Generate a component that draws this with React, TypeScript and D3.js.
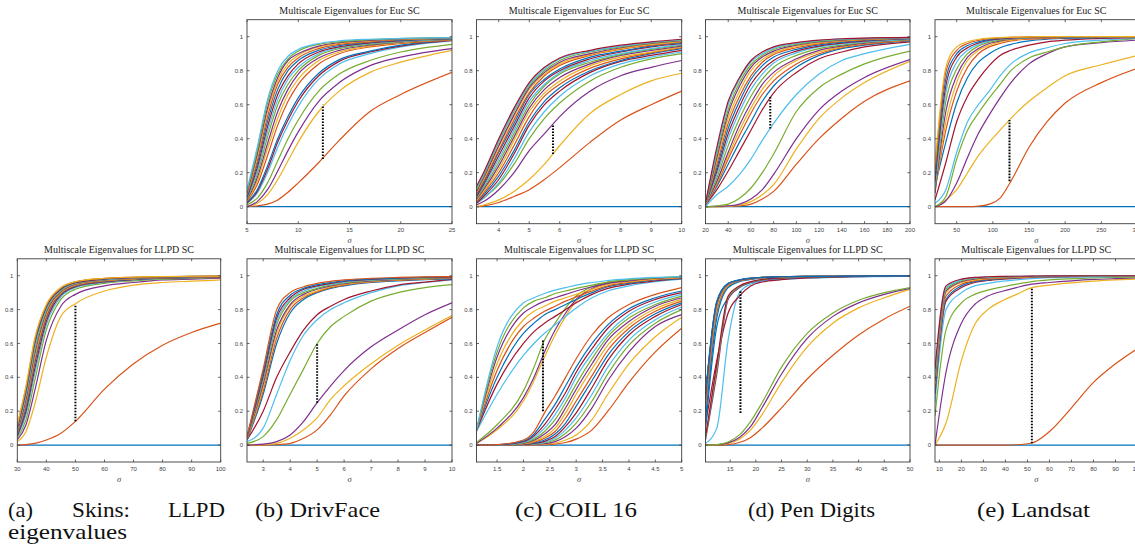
import React from "react";
import * as d3 from "d3";

const matlabColors = ["#0072BD", "#D95319", "#EDB120", "#7E2F8E", "#77AC30", "#4DBEEE", "#A2142F"];
const yTickValues = [0, 0.2, 0.4, 0.6, 0.8, 1];
const titleEuc = "Multiscale Eigenvalues for Euc SC";
const titleLLPD = "Multiscale Eigenvalues for LLPD SC";

// (a) Skins – LLPD
const skinsSigma = [30, 33, 36, 40, 45, 50, 60, 70, 80, 90, 100];
const skinsTicks = [30, 40, 50, 60, 70, 80, 90, 100];
const skinsGap = [50, 0.14, 0.83];
const skinsLLPD = [
  [0, 0, 0, 0, 0, 0, 0, 0, 0, 0, 0],
  [0, 0.003, 0.01, 0.03, 0.07, 0.14, 0.33, 0.48, 0.59, 0.665, 0.72],
  [0.02, 0.08, 0.24, 0.52, 0.76, 0.835, 0.91, 0.945, 0.96, 0.968, 0.975],
  [0.03, 0.12, 0.32, 0.62, 0.82, 0.89, 0.94, 0.96, 0.975, 0.98, 0.985],
  [0.04, 0.15, 0.38, 0.68, 0.86, 0.92, 0.955, 0.97, 0.98, 0.985, 0.99],
  [0.05, 0.18, 0.42, 0.71, 0.875, 0.93, 0.96, 0.975, 0.983, 0.988, 0.991],
  [0.055, 0.2, 0.45, 0.73, 0.885, 0.935, 0.963, 0.977, 0.985, 0.989, 0.992],
  [0.06, 0.22, 0.48, 0.75, 0.89, 0.94, 0.966, 0.979, 0.986, 0.99, 0.993],
  [0.07, 0.24, 0.5, 0.76, 0.895, 0.943, 0.969, 0.98, 0.987, 0.991, 0.994],
  [0.075, 0.26, 0.52, 0.775, 0.9, 0.946, 0.972, 0.982, 0.988, 0.992, 0.995],
  [0.08, 0.27, 0.54, 0.785, 0.905, 0.95, 0.974, 0.984, 0.989, 0.993, 0.995],
  [0.09, 0.29, 0.56, 0.795, 0.91, 0.953, 0.976, 0.986, 0.99, 0.994, 0.996],
  [0.095, 0.3, 0.58, 0.805, 0.915, 0.956, 0.978, 0.987, 0.991, 0.995, 0.996],
  [0.1, 0.32, 0.6, 0.815, 0.92, 0.959, 0.98, 0.988, 0.992, 0.995, 0.997],
  [0.11, 0.33, 0.61, 0.82, 0.925, 0.962, 0.982, 0.99, 0.993, 0.996, 0.997],
  [0.115, 0.34, 0.62, 0.825, 0.928, 0.964, 0.984, 0.991, 0.994, 0.996, 0.998],
  [0.12, 0.35, 0.63, 0.83, 0.93, 0.965, 0.985, 0.992, 0.995, 0.997, 0.998],
];

// (b) DrivFace – Euclidean
const drivEucSigma = [5, 6, 7, 8, 9, 10, 12, 14, 17, 20, 25];
const drivEucTicks = [5, 10, 15, 20, 25];
const drivEucGap = [12.4, 0.28, 0.6];
const drivEuc = [
  [0, 0, 0, 0, 0, 0, 0, 0, 0, 0, 0],
  [0, 0.005, 0.015, 0.04, 0.085, 0.14, 0.26, 0.39, 0.56, 0.66, 0.79],
  [0, 0.02, 0.07, 0.16, 0.27, 0.38, 0.56, 0.68, 0.79, 0.85, 0.92],
  [0, 0.03, 0.1, 0.21, 0.33, 0.44, 0.62, 0.73, 0.83, 0.88, 0.93],
  [0.01, 0.05, 0.14, 0.27, 0.4, 0.51, 0.68, 0.78, 0.86, 0.91, 0.955],
  [0.02, 0.08, 0.2, 0.35, 0.48, 0.59, 0.75, 0.84, 0.9, 0.94, 0.975],
  [0.02, 0.09, 0.22, 0.38, 0.51, 0.62, 0.77, 0.855, 0.91, 0.945, 0.978],
  [0.025, 0.1, 0.24, 0.4, 0.53, 0.64, 0.785, 0.865, 0.915, 0.95, 0.98],
  [0.03, 0.13, 0.3, 0.48, 0.62, 0.72, 0.84, 0.9, 0.94, 0.96, 0.98],
  [0.035, 0.15, 0.34, 0.52, 0.66, 0.75, 0.86, 0.91, 0.945, 0.965, 0.982],
  [0.04, 0.17, 0.37, 0.56, 0.69, 0.78, 0.875, 0.92, 0.95, 0.968, 0.984],
  [0.045, 0.19, 0.41, 0.6, 0.72, 0.8, 0.89, 0.93, 0.955, 0.97, 0.985],
  [0.05, 0.21, 0.44, 0.63, 0.75, 0.82, 0.9, 0.935, 0.96, 0.973, 0.987],
  [0.055, 0.23, 0.47, 0.66, 0.77, 0.84, 0.91, 0.94, 0.963, 0.976, 0.988],
  [0.06, 0.25, 0.5, 0.69, 0.8, 0.86, 0.92, 0.948, 0.967, 0.979, 0.989],
  [0.07, 0.27, 0.53, 0.72, 0.82, 0.875, 0.93, 0.955, 0.97, 0.982, 0.99],
  [0.075, 0.29, 0.56, 0.74, 0.84, 0.89, 0.94, 0.96, 0.975, 0.985, 0.992],
  [0.08, 0.31, 0.58, 0.76, 0.86, 0.9, 0.945, 0.965, 0.978, 0.987, 0.993],
  [0.09, 0.33, 0.61, 0.78, 0.87, 0.915, 0.955, 0.97, 0.982, 0.989, 0.994],
  [0.1, 0.35, 0.63, 0.8, 0.885, 0.925, 0.96, 0.975, 0.985, 0.99, 0.995],
];

// (c) COIL 16 – Euclidean
const coilEucSigma = [3.27, 3.5, 4, 4.5, 5, 5.5, 6, 7, 8, 9, 10];
const coilEucTicks = [4, 5, 6, 7, 8, 9, 10];
const coilEucGap = [5.78, 0.31, 0.48];
const coilEuc = [
  [0, 0, 0, 0, 0, 0, 0, 0, 0, 0, 0],
  [0, 0.005, 0.025, 0.06, 0.1, 0.16, 0.23, 0.38, 0.51, 0.6, 0.68],
  [0, 0.01, 0.04, 0.09, 0.16, 0.25, 0.36, 0.55, 0.66, 0.74, 0.785],
  [0.01, 0.03, 0.1, 0.2, 0.33, 0.43, 0.53, 0.68, 0.77, 0.82, 0.86],
  [0.02, 0.05, 0.13, 0.25, 0.4, 0.52, 0.61, 0.74, 0.82, 0.87, 0.9],
  [0.02, 0.05, 0.14, 0.28, 0.44, 0.56, 0.65, 0.77, 0.84, 0.88, 0.91],
  [0.02, 0.06, 0.16, 0.31, 0.48, 0.6, 0.68, 0.79, 0.855, 0.89, 0.92],
  [0.03, 0.07, 0.18, 0.33, 0.5, 0.62, 0.7, 0.8, 0.86, 0.9, 0.93],
  [0.03, 0.08, 0.2, 0.36, 0.53, 0.65, 0.72, 0.815, 0.87, 0.905, 0.935],
  [0.04, 0.09, 0.22, 0.39, 0.56, 0.67, 0.74, 0.83, 0.88, 0.91, 0.94],
  [0.045, 0.1, 0.24, 0.41, 0.58, 0.69, 0.76, 0.84, 0.89, 0.92, 0.945],
  [0.05, 0.11, 0.26, 0.43, 0.6, 0.71, 0.78, 0.85, 0.895, 0.925, 0.95],
  [0.055, 0.12, 0.28, 0.45, 0.62, 0.72, 0.79, 0.86, 0.9, 0.93, 0.955],
  [0.06, 0.13, 0.3, 0.47, 0.64, 0.74, 0.8, 0.87, 0.91, 0.94, 0.96],
  [0.07, 0.14, 0.32, 0.49, 0.66, 0.75, 0.81, 0.88, 0.915, 0.945, 0.965],
  [0.075, 0.15, 0.33, 0.51, 0.67, 0.77, 0.83, 0.89, 0.925, 0.95, 0.97],
  [0.085, 0.16, 0.35, 0.53, 0.69, 0.78, 0.84, 0.895, 0.93, 0.955, 0.973],
  [0.09, 0.17, 0.36, 0.54, 0.7, 0.79, 0.85, 0.9, 0.935, 0.96, 0.977],
  [0.1, 0.18, 0.38, 0.56, 0.71, 0.8, 0.86, 0.91, 0.94, 0.963, 0.98],
  [0.11, 0.19, 0.39, 0.57, 0.72, 0.81, 0.87, 0.915, 0.945, 0.967, 0.982],
  [0.12, 0.2, 0.4, 0.58, 0.73, 0.82, 0.875, 0.92, 0.95, 0.97, 0.985],
];

// (d) Pen Digits – Euclidean
const penEucSigma = [20, 30, 40, 50, 60, 70, 80, 100, 120, 140, 160, 200];
const penEucTicks = [20, 40, 60, 80, 100, 120, 140, 160, 180, 200];
const penEucGap = [77, 0.46, 0.65];
const penEuc = [
  [0, 0, 0, 0, 0, 0, 0, 0, 0, 0, 0, 0],
  [0, 0, 0.002, 0.005, 0.015, 0.045, 0.09, 0.25, 0.4, 0.52, 0.62, 0.74],
  [0, 0, 0.003, 0.01, 0.03, 0.07, 0.13, 0.34, 0.52, 0.64, 0.73, 0.855],
  [0, 0.002, 0.005, 0.015, 0.045, 0.1, 0.19, 0.4, 0.57, 0.68, 0.76, 0.865],
  [0, 0.005, 0.015, 0.05, 0.11, 0.2, 0.31, 0.56, 0.7, 0.78, 0.84, 0.915],
  [0, 0.07, 0.12, 0.19, 0.28, 0.39, 0.49, 0.66, 0.78, 0.86, 0.9, 0.955],
  [0.01, 0.1, 0.21, 0.33, 0.45, 0.57, 0.67, 0.79, 0.87, 0.91, 0.94, 0.97],
  [0.01, 0.12, 0.25, 0.38, 0.5, 0.62, 0.71, 0.82, 0.89, 0.93, 0.95, 0.975],
  [0.01, 0.13, 0.28, 0.42, 0.55, 0.66, 0.74, 0.84, 0.9, 0.935, 0.955, 0.978],
  [0.015, 0.14, 0.3, 0.45, 0.58, 0.69, 0.77, 0.86, 0.91, 0.94, 0.96, 0.98],
  [0.015, 0.15, 0.32, 0.48, 0.61, 0.72, 0.79, 0.87, 0.92, 0.945, 0.962, 0.982],
  [0.015, 0.17, 0.36, 0.52, 0.65, 0.75, 0.82, 0.89, 0.93, 0.95, 0.966, 0.984],
  [0.02, 0.19, 0.4, 0.56, 0.69, 0.78, 0.845, 0.905, 0.94, 0.957, 0.97, 0.986],
  [0.02, 0.21, 0.43, 0.59, 0.72, 0.805, 0.86, 0.915, 0.945, 0.962, 0.974, 0.988],
  [0.02, 0.23, 0.46, 0.62, 0.75, 0.83, 0.88, 0.925, 0.952, 0.967, 0.978, 0.99],
  [0.02, 0.25, 0.49, 0.65, 0.77, 0.85, 0.895, 0.935, 0.958, 0.972, 0.981, 0.991],
  [0.02, 0.27, 0.52, 0.68, 0.8, 0.865, 0.905, 0.943, 0.964, 0.976, 0.984, 0.992],
  [0.02, 0.29, 0.55, 0.71, 0.82, 0.88, 0.915, 0.95, 0.969, 0.98, 0.987, 0.993],
  [0.02, 0.31, 0.57, 0.73, 0.835, 0.89, 0.925, 0.955, 0.973, 0.983, 0.989, 0.994],
  [0.02, 0.33, 0.6, 0.75, 0.85, 0.9, 0.933, 0.96, 0.977, 0.986, 0.99, 0.995],
  [0.02, 0.35, 0.62, 0.76, 0.86, 0.91, 0.94, 0.965, 0.98, 0.988, 0.992, 0.996],
];

// (e) Landsat – Euclidean
const landEucSigma = [20, 35, 50, 65, 80, 95, 110, 125, 150, 175, 200, 250, 300];
const landEucTicks = [50, 100, 150, 200, 250, 300];
const landEucGap = [123, 0.15, 0.51];
const landEuc = [
  [0, 0, 0, 0, 0, 0, 0, 0, 0, 0, 0, 0, 0],
  [0, 0, 0, 0, 0.003, 0.015, 0.05, 0.15, 0.35, 0.5, 0.61, 0.73, 0.815],
  [0, 0.04, 0.1, 0.2, 0.3, 0.38, 0.45, 0.52, 0.62, 0.7, 0.77, 0.835, 0.89],
  [0, 0.035, 0.14, 0.29, 0.43, 0.54, 0.64, 0.73, 0.84, 0.9, 0.94, 0.965, 0.98],
  [0, 0.06, 0.28, 0.45, 0.55, 0.64, 0.72, 0.8, 0.875, 0.91, 0.94, 0.97, 0.99],
  [0.02, 0.1, 0.32, 0.5, 0.6, 0.68, 0.77, 0.84, 0.905, 0.935, 0.96, 0.98, 0.99],
  [0.04, 0.26, 0.5, 0.65, 0.75, 0.83, 0.89, 0.92, 0.95, 0.97, 0.98, 0.99, 0.995],
  [0.12, 0.38, 0.61, 0.76, 0.85, 0.9, 0.935, 0.955, 0.975, 0.985, 0.99, 0.995, 0.997],
  [0.1, 0.45, 0.68, 0.82, 0.9, 0.94, 0.96, 0.975, 0.985, 0.99, 0.995, 0.997, 0.998],
  [0.08, 0.5, 0.73, 0.86, 0.92, 0.95, 0.97, 0.98, 0.99, 0.994, 0.996, 0.998, 0.999],
  [0.08, 0.56, 0.77, 0.88, 0.93, 0.96, 0.975, 0.985, 0.992, 0.995, 0.997, 0.999, 0.999],
  [0.1, 0.62, 0.81, 0.9, 0.945, 0.968, 0.98, 0.988, 0.994, 0.996, 0.998, 0.999, 1],
  [0.12, 0.67, 0.85, 0.92, 0.955, 0.974, 0.984, 0.99, 0.995, 0.997, 0.998, 0.999, 1],
  [0.15, 0.71, 0.88, 0.935, 0.963, 0.979, 0.987, 0.992, 0.996, 0.998, 0.999, 1, 1],
  [0.18, 0.75, 0.9, 0.948, 0.97, 0.983, 0.99, 0.994, 0.997, 0.998, 0.999, 1, 1],
  [0.21, 0.79, 0.92, 0.96, 0.978, 0.988, 0.993, 0.996, 0.998, 0.999, 1, 1, 1],
  [0.25, 0.82, 0.94, 0.97, 0.985, 0.992, 0.995, 0.997, 0.999, 1, 1, 1, 1],
];

// (b) DrivFace – LLPD
const drivLLPDSigma = [2.4, 3, 3.5, 4, 4.5, 5, 5.5, 6, 7, 8, 9, 10];
const drivLLPDTicks = [3, 4, 5, 6, 7, 8, 9, 10];
const drivLLPDGap = [5, 0.25, 0.6];
const drivLLPD = [
  [0, 0, 0, 0, 0, 0, 0, 0, 0, 0, 0, 0],
  [0, 0, 0.002, 0.01, 0.04, 0.09, 0.18, 0.29, 0.45, 0.57, 0.665, 0.755],
  [0, 0.002, 0.01, 0.04, 0.09, 0.16, 0.27, 0.35, 0.48, 0.59, 0.68, 0.765],
  [0, 0.005, 0.02, 0.06, 0.14, 0.25, 0.35, 0.44, 0.58, 0.68, 0.77, 0.84],
  [0.01, 0.05, 0.15, 0.3, 0.45, 0.6, 0.7, 0.76, 0.85, 0.9, 0.93, 0.948],
  [0.02, 0.1, 0.3, 0.5, 0.65, 0.74, 0.8, 0.84, 0.9, 0.94, 0.96, 0.975],
  [0.03, 0.2, 0.4, 0.55, 0.68, 0.77, 0.82, 0.86, 0.91, 0.945, 0.962, 0.978],
  [0.03, 0.3, 0.6, 0.78, 0.86, 0.9, 0.925, 0.94, 0.96, 0.97, 0.977, 0.982],
  [0.035, 0.32, 0.63, 0.8, 0.87, 0.905, 0.93, 0.945, 0.963, 0.973, 0.98, 0.985],
  [0.035, 0.34, 0.66, 0.82, 0.88, 0.91, 0.935, 0.95, 0.966, 0.976, 0.982, 0.987],
  [0.04, 0.36, 0.68, 0.83, 0.89, 0.92, 0.94, 0.953, 0.969, 0.978, 0.984, 0.988],
  [0.04, 0.38, 0.71, 0.85, 0.9, 0.925, 0.945, 0.957, 0.972, 0.98, 0.986, 0.99],
  [0.045, 0.4, 0.73, 0.86, 0.91, 0.935, 0.95, 0.962, 0.975, 0.983, 0.988, 0.991],
  [0.045, 0.41, 0.75, 0.87, 0.92, 0.94, 0.955, 0.966, 0.978, 0.985, 0.99, 0.992],
  [0.05, 0.43, 0.77, 0.885, 0.925, 0.947, 0.96, 0.97, 0.981, 0.987, 0.991, 0.994],
  [0.05, 0.45, 0.8, 0.9, 0.935, 0.955, 0.967, 0.975, 0.985, 0.99, 0.993, 0.995],
];

// (c) COIL 16 – LLPD
const coilLLPDSigma = [1.11, 1.5, 2, 2.2, 2.4, 2.6, 2.8, 3, 3.3, 3.6, 4, 4.5, 5];
const coilLLPDTicks = [1.5, 2, 2.5, 3, 3.5, 4, 4.5, 5];
const coilLLPDGap = [2.37, 0.2, 0.62];
const coilLLPD = [
  [0, 0, 0, 0, 0, 0, 0, 0, 0, 0, 0, 0, 0],
  [0, 0, 0, 0, 0.002, 0.006, 0.015, 0.035, 0.09, 0.2, 0.37, 0.55, 0.69],
  [0, 0, 0, 0.002, 0.005, 0.012, 0.03, 0.06, 0.15, 0.3, 0.48, 0.64, 0.755],
  [0, 0, 0, 0.003, 0.008, 0.02, 0.05, 0.1, 0.22, 0.38, 0.55, 0.7, 0.77],
  [0, 0, 0.002, 0.005, 0.012, 0.03, 0.07, 0.13, 0.26, 0.42, 0.59, 0.72, 0.8],
  [0, 0, 0.003, 0.007, 0.016, 0.04, 0.09, 0.16, 0.3, 0.46, 0.62, 0.74, 0.815],
  [0, 0, 0.004, 0.01, 0.022, 0.05, 0.11, 0.19, 0.34, 0.5, 0.65, 0.76, 0.83],
  [0, 0, 0.005, 0.013, 0.03, 0.065, 0.13, 0.23, 0.38, 0.53, 0.67, 0.775, 0.84],
  [0, 0, 0.006, 0.017, 0.04, 0.08, 0.16, 0.26, 0.41, 0.56, 0.69, 0.79, 0.85],
  [0, 0, 0.008, 0.022, 0.05, 0.1, 0.19, 0.3, 0.45, 0.59, 0.71, 0.805, 0.86],
  [0, 0, 0.01, 0.028, 0.065, 0.12, 0.22, 0.33, 0.48, 0.62, 0.73, 0.82, 0.87],
  [0, 0.001, 0.013, 0.035, 0.08, 0.15, 0.25, 0.36, 0.51, 0.64, 0.75, 0.83, 0.88],
  [0, 0.001, 0.016, 0.045, 0.1, 0.18, 0.28, 0.4, 0.54, 0.66, 0.77, 0.845, 0.89],
  [0, 0.002, 0.02, 0.055, 0.12, 0.21, 0.31, 0.43, 0.57, 0.69, 0.79, 0.86, 0.9],
  [0, 0.002, 0.024, 0.065, 0.15, 0.24, 0.35, 0.46, 0.6, 0.71, 0.805, 0.87, 0.91],
  [0, 0.003, 0.03, 0.08, 0.19, 0.29, 0.4, 0.51, 0.65, 0.75, 0.83, 0.89, 0.93],
  [0.01, 0.09, 0.26, 0.38, 0.52, 0.65, 0.76, 0.85, 0.92, 0.955, 0.97, 0.98, 0.985],
  [0.01, 0.1, 0.28, 0.4, 0.55, 0.68, 0.78, 0.86, 0.925, 0.957, 0.972, 0.982, 0.986],
  [0.015, 0.12, 0.32, 0.46, 0.62, 0.72, 0.81, 0.88, 0.935, 0.962, 0.976, 0.984, 0.988],
  [0.08, 0.3, 0.53, 0.6, 0.66, 0.71, 0.76, 0.81, 0.87, 0.91, 0.94, 0.965, 0.98],
  [0.085, 0.36, 0.6, 0.67, 0.72, 0.76, 0.8, 0.84, 0.89, 0.925, 0.95, 0.97, 0.983],
  [0.09, 0.4, 0.66, 0.72, 0.77, 0.8, 0.83, 0.86, 0.9, 0.935, 0.955, 0.975, 0.985],
  [0.09, 0.44, 0.7, 0.75, 0.79, 0.82, 0.85, 0.875, 0.91, 0.94, 0.96, 0.978, 0.987],
  [0.09, 0.48, 0.74, 0.79, 0.82, 0.85, 0.87, 0.89, 0.92, 0.948, 0.965, 0.98, 0.99],
  [0.09, 0.52, 0.78, 0.82, 0.85, 0.87, 0.89, 0.91, 0.935, 0.955, 0.97, 0.985, 0.992],
  [0.09, 0.55, 0.81, 0.85, 0.87, 0.895, 0.91, 0.925, 0.945, 0.963, 0.976, 0.987, 0.993],
  [0.09, 0.58, 0.84, 0.87, 0.895, 0.915, 0.93, 0.945, 0.96, 0.972, 0.982, 0.99, 0.995],
];

// (d) Pen Digits – LLPD
const penLLPDSigma = [10.2, 12.4, 14.6, 16.8, 19, 21.2, 25, 30, 35, 40, 45, 50];
const penLLPDTicks = [15, 20, 25, 30, 35, 40, 45, 50];
const penLLPDGap = [17, 0.19, 0.91];
const penLLPD = [
  [0, 0, 0, 0, 0, 0, 0, 0, 0, 0, 0, 0],
  [0, 0, 0.003, 0.015, 0.045, 0.1, 0.22, 0.39, 0.53, 0.65, 0.745, 0.82],
  [0, 0.002, 0.01, 0.035, 0.09, 0.18, 0.37, 0.58, 0.72, 0.81, 0.87, 0.92],
  [0, 0.002, 0.013, 0.045, 0.11, 0.22, 0.42, 0.63, 0.76, 0.84, 0.89, 0.925],
  [0, 0.003, 0.018, 0.06, 0.14, 0.25, 0.46, 0.66, 0.78, 0.855, 0.9, 0.93],
  [0.01, 0.1, 0.62, 0.9, 0.95, 0.968, 0.978, 0.986, 0.99, 0.993, 0.995, 0.996],
  [0.12, 0.5, 0.78, 0.88, 0.94, 0.963, 0.977, 0.987, 0.992, 0.995, 0.996, 0.997],
  [0.1, 0.7, 0.87, 0.93, 0.96, 0.975, 0.985, 0.991, 0.994, 0.996, 0.997, 0.998],
  [0.28, 0.82, 0.95, 0.972, 0.983, 0.989, 0.993, 0.995, 0.997, 0.998, 0.998, 0.999],
  [0.25, 0.8, 0.94, 0.97, 0.982, 0.988, 0.992, 0.995, 0.997, 0.998, 0.998, 0.999],
  [0.03, 0.42, 0.86, 0.93, 0.96, 0.975, 0.985, 0.991, 0.994, 0.996, 0.997, 0.998],
  [0.04, 0.45, 0.87, 0.935, 0.963, 0.977, 0.986, 0.992, 0.995, 0.996, 0.997, 0.998],
  [0.2, 0.78, 0.935, 0.968, 0.98, 0.987, 0.992, 0.995, 0.997, 0.998, 0.998, 0.999],
  [0.05, 0.48, 0.88, 0.94, 0.965, 0.978, 0.987, 0.992, 0.995, 0.997, 0.998, 0.998],
  [0.15, 0.75, 0.93, 0.965, 0.978, 0.986, 0.991, 0.994, 0.996, 0.997, 0.998, 0.999],
  [0.22, 0.79, 0.94, 0.97, 0.981, 0.988, 0.992, 0.995, 0.997, 0.998, 0.999, 0.999],
  [0.26, 0.81, 0.945, 0.972, 0.983, 0.989, 0.993, 0.996, 0.997, 0.998, 0.999, 0.999],
  [0.27, 0.83, 0.95, 0.973, 0.984, 0.99, 0.994, 0.996, 0.997, 0.998, 0.999, 0.999],
  [0.29, 0.84, 0.952, 0.974, 0.985, 0.99, 0.994, 0.996, 0.997, 0.998, 0.999, 0.999],
  [0.3, 0.84, 0.953, 0.975, 0.985, 0.99, 0.994, 0.996, 0.997, 0.998, 0.999, 0.999],
  [0.29, 0.845, 0.954, 0.975, 0.985, 0.99, 0.994, 0.996, 0.997, 0.998, 0.999, 0.999],
  [0.3, 0.85, 0.955, 0.976, 0.986, 0.991, 0.994, 0.996, 0.997, 0.998, 0.999, 0.999],
];

// (e) Landsat – LLPD
const landLLPDSigma = [8, 13, 20, 26, 32, 39, 45, 52, 60, 70, 80, 90, 100];
const landLLPDTicks = [10, 20, 30, 40, 50, 60, 70, 80, 90, 100];
const landLLPDGap = [52, 0.01, 0.93];
const landLLPD = [
  [0, 0, 0, 0, 0, 0, 0, 0, 0, 0, 0, 0, 0],
  [0, 0, 0, 0, 0, 0, 0.002, 0.012, 0.08, 0.22, 0.37, 0.48, 0.57],
  [0, 0.13, 0.5, 0.71, 0.8, 0.855, 0.89, 0.93, 0.945, 0.958, 0.968, 0.975, 0.98],
  [0, 0.43, 0.72, 0.83, 0.88, 0.91, 0.93, 0.95, 0.96, 0.97, 0.978, 0.983, 0.987],
  [0.17, 0.68, 0.84, 0.89, 0.915, 0.935, 0.95, 0.965, 0.975, 0.982, 0.987, 0.99, 0.992],
  [0.25, 0.8, 0.9, 0.94, 0.955, 0.968, 0.976, 0.983, 0.988, 0.991, 0.993, 0.995, 0.996],
  [0.3, 0.85, 0.93, 0.96, 0.972, 0.98, 0.985, 0.99, 0.993, 0.995, 0.996, 0.997, 0.998],
  [0.32, 0.86, 0.94, 0.965, 0.976, 0.983, 0.988, 0.992, 0.994, 0.996, 0.997, 0.998, 0.998],
  [0.34, 0.88, 0.95, 0.97, 0.98, 0.986, 0.99, 0.993, 0.995, 0.996, 0.997, 0.998, 0.999],
  [0.36, 0.9, 0.96, 0.975, 0.984, 0.989, 0.992, 0.994, 0.996, 0.997, 0.998, 0.999, 0.999],
  [0.38, 0.91, 0.965, 0.98, 0.987, 0.991, 0.994, 0.996, 0.997, 0.998, 0.999, 0.999, 1],
  [0.4, 0.92, 0.97, 0.984, 0.99, 0.993, 0.995, 0.997, 0.998, 0.998, 0.999, 1, 1],
  [0.42, 0.93, 0.975, 0.987, 0.992, 0.995, 0.996, 0.997, 0.998, 0.999, 0.999, 1, 1],
  [0.45, 0.94, 0.98, 0.99, 0.994, 0.996, 0.997, 0.998, 0.999, 0.999, 1, 1, 1],
];

const captionLabels = ["(b) DrivFace", "(c) COIL 16", "(d) Pen Digits", "(e) Landsat"];

// layout
const colLeft = [17.3, 247, 476.5, 705.5, 935];
const colRight = [220.7, 452, 681.7, 910, 1137.5];
const rowTop = [19.7, 258.8];
const rowBottom = [223.7, 462];
const captionStarts = [255, 515, 748, 977];
const captionWidths = [125, 122, 127, 113];

const panels = [
  { id: "bE", col: 1, row: 0, title: titleEuc, sigma: drivEucSigma, curves: drivEuc, ticks: drivEucTicks, domain: [5, 25], gap: drivEucGap },
  { id: "cE", col: 2, row: 0, title: titleEuc, sigma: coilEucSigma, curves: coilEuc, ticks: coilEucTicks, domain: [3.27, 10], gap: coilEucGap },
  { id: "dE", col: 3, row: 0, title: titleEuc, sigma: penEucSigma, curves: penEuc, ticks: penEucTicks, domain: [20, 200], gap: penEucGap },
  { id: "eE", col: 4, row: 0, title: titleEuc, sigma: landEucSigma, curves: landEuc, ticks: landEucTicks, domain: [20, 300], gap: landEucGap },
  { id: "aL", col: 0, row: 1, title: titleLLPD, sigma: skinsSigma, curves: skinsLLPD, ticks: skinsTicks, domain: [30, 100], gap: skinsGap },
  { id: "bL", col: 1, row: 1, title: titleLLPD, sigma: drivLLPDSigma, curves: drivLLPD, ticks: drivLLPDTicks, domain: [2.4, 10], gap: drivLLPDGap },
  { id: "cL", col: 2, row: 1, title: titleLLPD, sigma: coilLLPDSigma, curves: coilLLPD, ticks: coilLLPDTicks, domain: [1.11, 5], gap: coilLLPDGap },
  { id: "dL", col: 3, row: 1, title: titleLLPD, sigma: penLLPDSigma, curves: penLLPD, ticks: penLLPDTicks, domain: [10.2, 50], gap: penLLPDGap },
  { id: "eL", col: 4, row: 1, title: titleLLPD, sigma: landLLPDSigma, curves: landLLPD, ticks: landLLPDTicks, domain: [8, 100], gap: landLLPDGap },
];

const axisColor = "#3c3c3c";
const tickFont = "'Liberation Sans', Arial, sans-serif";
const serif = "'Liberation Serif', 'Times New Roman', serif";

function Panel({ p }: { p: any }) {
  const left = colLeft[p.col];
  const right = colRight[p.col];
  const top = rowTop[p.row];
  const bottom = rowBottom[p.row];
  const x = d3.scaleLinear().domain(p.domain).range([left, right]);
  const y = d3.scaleLinear().domain([-0.1, 1.1]).range([bottom, top]);
  const line = d3
    .line<number>()
    .x((_, i) => x(p.sigma[i]))
    .y((d) => y(d))
    .curve(d3.curveMonotoneX);
  const tl = 2.5;
  const cx = (left + right) / 2;
  const clipId = "clip-" + p.id;
  return (
    <g>
      <defs>
        <clipPath id={clipId}>
          <rect x={left} y={top} width={right - left} height={bottom - top} />
        </clipPath>
      </defs>
      <text x={cx} y={top - 5.5} textAnchor="middle" fontFamily={serif} fontSize={10} fill="#222">
        {p.title}
      </text>
      <g clipPath={`url(#${clipId})`}>
        {p.curves.map((c: number[], i: number) => (
          <path key={i} d={line(c) || ""} fill="none" stroke={matlabColors[i % 7]} strokeWidth={1.2} />
        ))}
        <line
          x1={x(p.gap[0])}
          x2={x(p.gap[0])}
          y1={y(p.gap[1])}
          y2={y(p.gap[2])}
          stroke="#000"
          strokeWidth={2}
          strokeDasharray="1.6,1.4"
        />
      </g>
      <rect x={left} y={top} width={right - left} height={bottom - top} fill="none" stroke={axisColor} strokeWidth={0.9} />
      {p.ticks.map((t: number) => (
        <g key={"x" + t}>
          <line x1={x(t)} x2={x(t)} y1={bottom} y2={bottom - tl} stroke={axisColor} strokeWidth={0.8} />
          <line x1={x(t)} x2={x(t)} y1={top} y2={top + tl} stroke={axisColor} strokeWidth={0.8} />
          <text x={x(t)} y={bottom + 8.5} textAnchor="middle" fontFamily={tickFont} fontSize={6} fill="#444">
            {String(t)}
          </text>
        </g>
      ))}
      {yTickValues.map((t) => (
        <g key={"y" + t}>
          <line x1={left} x2={left + tl} y1={y(t)} y2={y(t)} stroke={axisColor} strokeWidth={0.8} />
          <line x1={right} x2={right - tl} y1={y(t)} y2={y(t)} stroke={axisColor} strokeWidth={0.8} />
          <text x={left - 4} y={y(t)} dy="0.35em" textAnchor="end" fontFamily={tickFont} fontSize={6} fill="#444">
            {String(t)}
          </text>
        </g>
      ))}
      <text x={cx} y={bottom + 19.5} textAnchor="middle" fontFamily={serif} fontStyle="italic" fontSize={8.5} fill="#444">
        σ
      </text>
    </g>
  );
}

export default function App() {
  return (
    <svg
      width={1135}
      height={544}
      viewBox="0 0 1135 544"
      style={{ position: "absolute", left: 0, top: 0, background: "#fff" }}
    >
      <rect x={0} y={0} width={1135} height={544} fill="#fff" />
      {panels.map((p) => (
        <Panel key={p.id} p={p} />
      ))}
      <g fontFamily={serif} fontSize={21} fill="#111">
        <text x={8} y={517} textLength={25} lengthAdjust="spacingAndGlyphs">(a)</text>
        <text x={72} y={517} textLength={58} lengthAdjust="spacingAndGlyphs">Skins:</text>
        <text x={168} y={517} textLength={57} lengthAdjust="spacingAndGlyphs">LLPD</text>
        <text x={8} y={539} textLength={119} lengthAdjust="spacingAndGlyphs">eigenvalues</text>
        {captionLabels.map((c, i) => (
          <text key={c} x={captionStarts[i]} y={517} textLength={captionWidths[i]} lengthAdjust="spacingAndGlyphs">
            {c}
          </text>
        ))}
      </g>
    </svg>
  );
}
